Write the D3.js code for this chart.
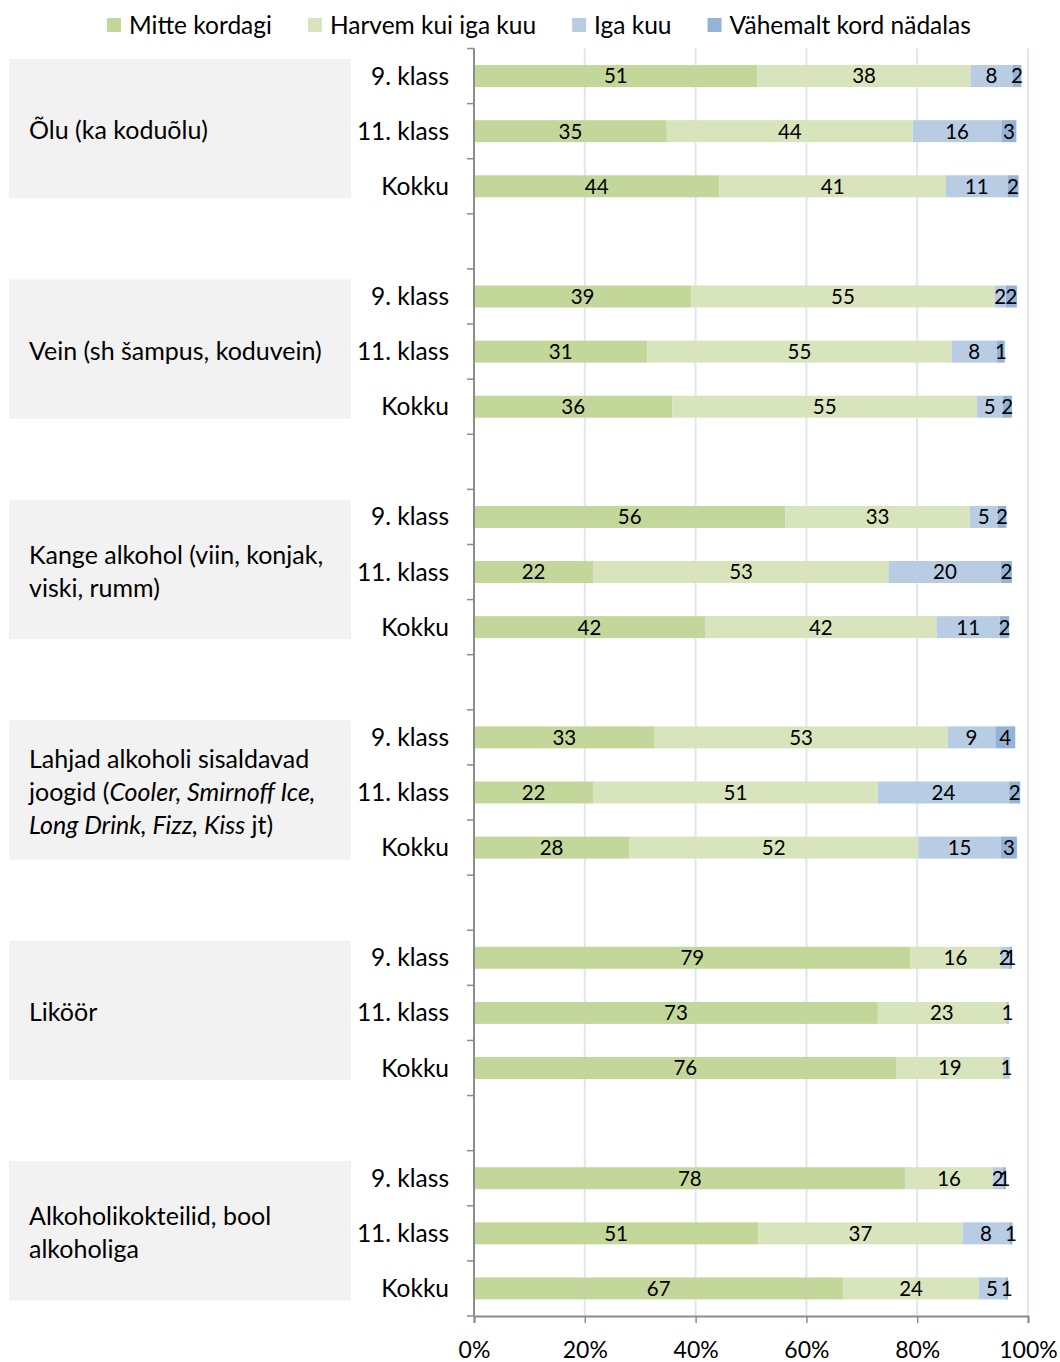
<!DOCTYPE html>
<html>
<head>
<meta charset="utf-8">
<script src="https://cdn.jsdelivr.net/npm/d3@7"></script>
<style>
  body { margin: 0; background: #fff; }
  svg text { font-family: Lato, "Open Sans", sans-serif; fill: #000; }
</style>
</head>
<body>
<div id="chart"></div>
<script>
// series / legend
const series = ["Mitte kordagi", "Harvem kui iga kuu", "Iga kuu", "Vähemalt kord nädalas"];
const colors = ["#c4d79b", "#d8e4bc", "#b8cce4", "#95b3d7"];

// category labels (each line is a list of [text, italic] pieces)
const categories = [
  [[["Õlu (ka koduõlu)", false]]],
  [[["Vein (sh šampus, koduvein)", false]]],
  [[["Kange alkohol (viin, konjak,", false]], [["viski, rumm)", false]]],
  [[["Lahjad alkoholi sisaldavad", false]],
   [["joogid (", false], ["Cooler, Smirnoff Ice,", true]],
   [["Long Drink, Fizz, Kiss", true], [" jt)", false]]],
  [[["Liköör", false]]],
  [[["Alkoholikokteilid, bool", false]], [["alkoholiga", false]]]
];
const classes = ["9. klass", "11. klass", "Kokku"];

// values in %, per category: 9. klass, 11. klass, Kokku
const mitteKordagi = [51.2, 34.8, 44.3, 39.2, 31.3, 35.8, 56.2, 21.5, 41.7, 32.6, 21.5, 28.0, 78.8, 72.9, 76.3, 77.9, 51.3, 66.7];
const harvem       = [38.4, 44.4, 40.9, 54.8, 54.9, 55.0, 33.3, 53.4, 41.8, 52.9, 51.4, 52.2, 16.2, 23.1, 19.2, 15.7, 36.9, 24.4];
const igaKuu       = [ 7.6, 16.0, 11.1,  2.0,  8.2,  4.6,  5.0, 20.2, 11.4,  8.6, 23.7, 14.9,  1.6,  0.6,  1.2,  1.9,  8.4,  4.8];
const vahemalt     = [ 1.6,  2.7,  2.0,  2.0,  1.4,  1.7,  1.6,  2.0,  1.7,  3.6,  2.0,  2.9,  0.5,  0,    0,    0.5,  0.6,  0.5];
const xTicks = [0, 20, 40, 60, 80, 100];

const W = 1060, H = 1362;
const mLeft = 474, mRight = 1028, mTop = 48.5, mBottom = 1316;

const svg = d3.select("#chart").append("svg")
  .attr("width", W).attr("height", H);

// rows: 3 bars per category, one empty slot between categories
const rows = [];
const slots = [];
categories.forEach((c, gi) => {
  classes.forEach((k, ci) => {
    const key = gi + "-" + ci;
    slots.push(key);
    rows.push({ key: key, g: gi, cls: k, i: gi * 3 + ci });
  });
  if (gi < categories.length - 1) slots.push("gap" + gi);
});

const x = d3.scaleLinear().domain([0, 100]).range([mLeft, mRight]);
const y = d3.scaleBand().domain(slots).range([mTop, mBottom]).padding(0);
const step = y.step();
const barH = 22;

// gridlines
svg.append("g").selectAll("line")
  .data(xTicks.filter(t => t > 0))
  .enter().append("line")
  .attr("x1", d => x(d)).attr("x2", d => x(d))
  .attr("y1", mTop).attr("y2", mBottom)
  .attr("stroke", "#dde7f3").attr("stroke-width", 2);

// category boxes + labels
const cat = svg.append("g").selectAll("g")
  .data(categories)
  .enter().append("g");

cat.append("rect")
  .attr("x", 9).attr("width", 342)
  .attr("y", (d, i) => y(i + "-0") + 10.5)
  .attr("height", 3 * step - 26)
  .attr("fill", "#f2f2f2");

cat.each(function(lines, i) {
  const cy = y(i + "-0") + 12.5 + (3 * step - 26) / 2;
  const lh = 33;
  const y0 = cy - (lines.length - 1) * lh / 2;
  const t = d3.select(this).append("text")
    .attr("x", 29)
    .attr("font-size", 25);
  lines.forEach((pieces, li) => {
    pieces.forEach((p, pi) => {
      const ts = t.append("tspan")
        .text(p[0])
        .attr("font-style", p[1] ? "italic" : "normal");
      if (pi === 0) ts.attr("x", 29).attr("y", y0 + li * lh).attr("dy", "0.35em");
    });
  });
});

// class labels
svg.append("g").selectAll("text")
  .data(rows)
  .enter().append("text")
  .attr("x", 449)
  .attr("y", d => y(d.key) + step / 2)
  .attr("dy", "0.35em")
  .attr("text-anchor", "end")
  .attr("font-size", 24.5)
  .text(d => d.cls);

// stacked bars
const valueArrays = [mitteKordagi, harvem, igaKuu, vahemalt];
const table = rows.map(r => {
  const o = { key: r.key };
  series.forEach((s, si) => { o[s] = valueArrays[si][r.i]; });
  return o;
});
const stacked = d3.stack().keys(series)(table);

const layer = svg.append("g").selectAll("g")
  .data(stacked)
  .enter().append("g")
  .attr("fill", (d, i) => colors[i]);

layer.selectAll("rect")
  .data(d => d)
  .enter().append("rect")
  .attr("x", d => x(d[0]))
  .attr("width", d => x(d[1]) - x(d[0]))
  .attr("y", d => y(d.data.key) + step / 2 - barH / 2)
  .attr("height", barH);

layer.selectAll("text")
  .data((d, si) => d.map(v => ({ v: v, s: series[si] })))
  .enter().append("text")
  .filter(d => d.v.data[d.s] > 0)
  .attr("x", d => (x(d.v[0]) + x(d.v[1])) / 2)
  .attr("y", d => y(d.v.data.key) + step / 2)
  .attr("dy", "0.36em")
  .attr("text-anchor", "middle")
  .attr("font-size", 20.5)
  .style("fill", "#000")
  .text(d => Math.round(d.v.data[d.s]));

// left axis
const axisColor = "#8c8c8c";
const la = svg.append("g");
la.append("line")
  .attr("x1", mLeft).attr("x2", mLeft)
  .attr("y1", mTop).attr("y2", mBottom)
  .attr("stroke", axisColor).attr("stroke-width", 2);
la.selectAll("line.tick")
  .data(d3.range(slots.length + 1))
  .enter().append("line")
  .attr("class", "tick")
  .attr("x1", mLeft - 7).attr("x2", mLeft)
  .attr("y1", i => mTop + i * step).attr("y2", i => mTop + i * step)
  .attr("stroke", axisColor).attr("stroke-width", 1.5);

// bottom axis
const xAxis = d3.axisBottom(x)
  .tickValues(xTicks)
  .tickSize(7)
  .tickPadding(19)
  .tickFormat(d => d + "%");
const bx = svg.append("g")
  .attr("transform", "translate(0," + mBottom + ")")
  .call(xAxis);
bx.select(".domain").attr("stroke", axisColor).attr("stroke-width", 2);
bx.selectAll(".tick line").attr("stroke", axisColor).attr("stroke-width", 1.5);
bx.selectAll(".tick text")
  .attr("font-size", 23)
  .attr("font-family", "Lato, sans-serif")
  .style("fill", "#000");

// legend
const lg = svg.append("g");
let cx = 107;
series.forEach((s, i) => {
  lg.append("rect")
    .attr("x", cx).attr("y", 18)
    .attr("width", 14).attr("height", 14)
    .attr("fill", colors[i]);
  const t = lg.append("text")
    .attr("x", cx + 22).attr("y", 25)
    .attr("dy", "0.35em")
    .attr("font-size", 24.5)
    .text(s);
  cx = cx + 22 + t.node().getComputedTextLength() + 36;
});
</script>
</body>
</html>
